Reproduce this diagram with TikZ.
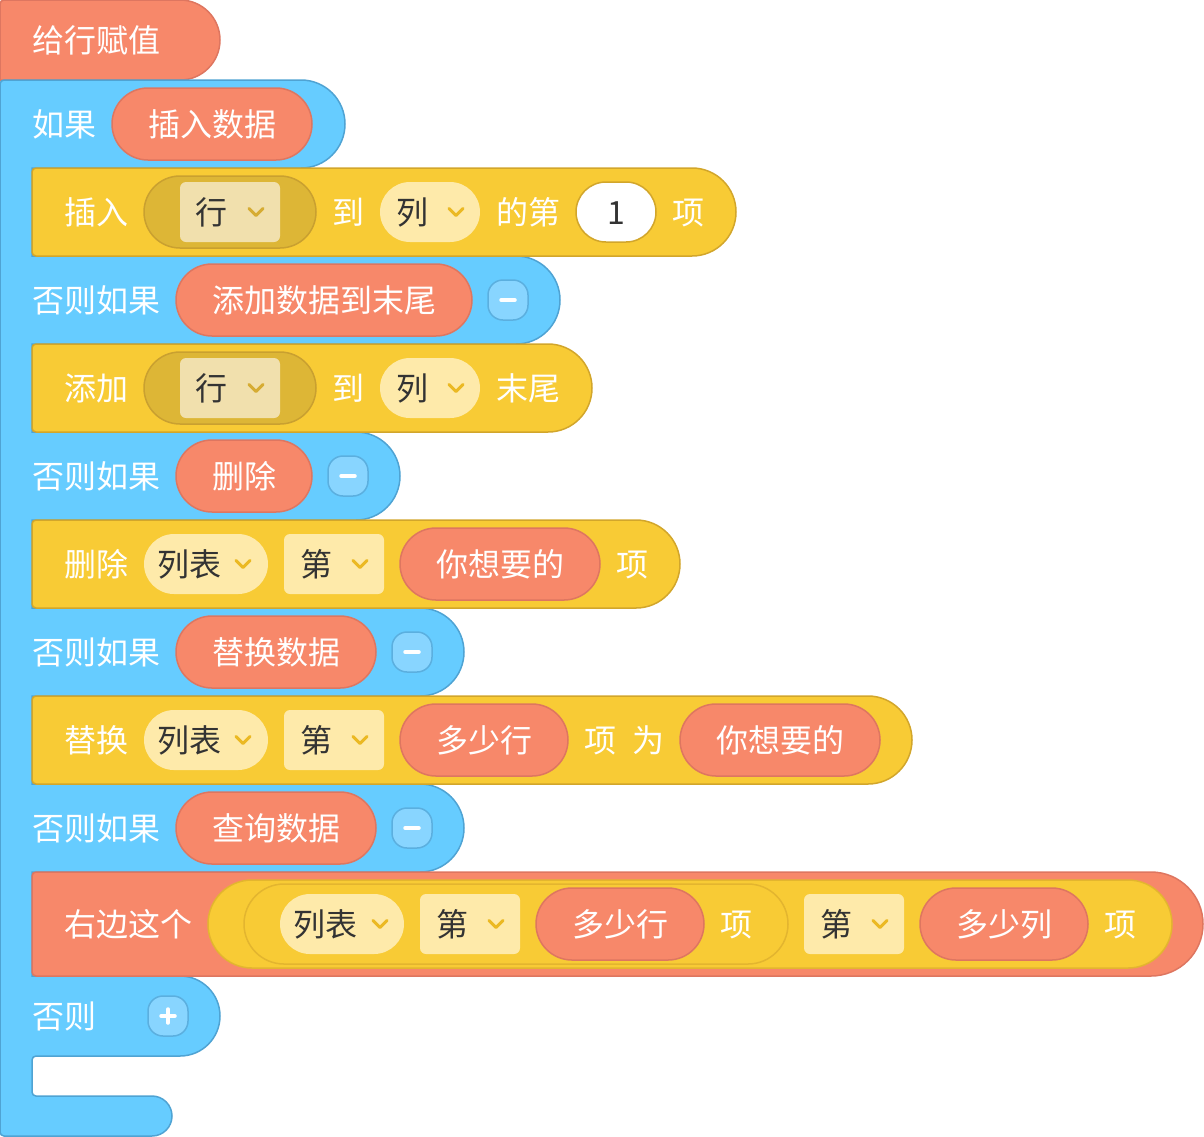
\documentclass[tikz,border=0pt]{standalone}
\usepackage{fontspec}
\setmainfont{Noto Sans CJK SC}
\newfontfamily\zh{Noto Sans CJK SC}
\definecolor{bluef}{HTML}{66CCFF}
\definecolor{blued}{HTML}{4FA3D3}
\definecolor{orf}{HTML}{F7886A}
\definecolor{ord}{HTML}{DE7660}
\definecolor{yelf}{HTML}{F8CB35}
\definecolor{yeld}{HTML}{D2A62B}
\definecolor{yeld2}{HTML}{E3B52F}
\definecolor{darkpill}{HTML}{DDB636}
\definecolor{darkpilld}{HTML}{C9A030}
\definecolor{innerlt}{HTML}{F1E0AD}
\definecolor{ltf}{HTML}{FEEAAA}
\definecolor{chevc}{HTML}{EBB923}
\definecolor{chevd}{HTML}{D6AC33}
\definecolor{dktext}{HTML}{333333}
\definecolor{btnf}{HTML}{88D5FF}
\definecolor{btnd}{HTML}{5BAFDF}
\tikzset{
  blueblk/.style={fill=bluef, draw=blued, line width=1.5pt},
  orblk/.style={fill=orf, draw=ord, line width=1.5pt},
  yelblk/.style={fill=yelf, draw=yeld, line width=1.5pt},
  orpill/.style={fill=orf, draw=ord, line width=1.5pt, rounded corners=36pt},
  ltpill/.style={fill=ltf, draw=none, rounded corners=30pt},
  ltrect/.style={fill=ltf, draw=none, rounded corners=6pt},
  wt/.style={anchor=base, inner sep=0pt, text=white, font=\zh\fontsize{32pt}{38pt}\selectfont},
  dk/.style={anchor=base, inner sep=0pt, text=dktext, font=\zh\fontsize{32pt}{38pt}\selectfont},
  chev/.style={draw=chevc, line width=3pt, line cap=round, line join=round},
  btn/.style={fill=btnf, draw=btnd, line width=1.5pt, rounded corners=15pt},
  sym/.style={draw=white, line width=3.5pt, line cap=round},
}
\newcommand\wtext[4]{\node[wt] (#1) at (#2,#3+12) {#4};}
\newcommand\dtext[4]{\node[dk] (#1) at (#2,#3+12) {#4};}
\newcommand\chevron[3]{\draw[chev,#3] (#1-7,#2-3.5) -- (#1,#2+3.5) -- (#1+7,#2-3.5);}
\newcommand\stmtblk[2]{\draw[yelblk] (32,#1+4) arc[start angle=180,end angle=270,radius=4] -- (#2-44,#1) arc[start angle=-90,end angle=90,radius=44] -- (36,#1+88) arc[start angle=90,end angle=180,radius=4] -- cycle;}
\newcommand\minusbtn[2]{\draw[btn] (#1-20,#2-20) rectangle (#1+20,#2+20); \draw[sym] (#1-7,#2) -- (#1+7,#2);}
\begin{document}
\begin{tikzpicture}[x=1pt,y=-1pt]
\useasboundingbox (0,0) rectangle (1204,1136);
% hat block
\draw[orblk] (0,4) arc[start angle=180,end angle=270,radius=4] -- (180,0) arc[start angle=-90,end angle=90,radius=40] -- (0,80) -- cycle;
\wtext{hat}{96}{40}{给行赋值}
% blue if/else block
\draw[blueblk] (0,84) arc[start angle=180,end angle=270,radius=4]
  -- (301,80) arc[start angle=-90,end angle=90,radius=44]
  -- (32,168) -- (32,256)
  -- (516,256) arc[start angle=-90,end angle=90,radius=44]
  -- (32,344) -- (32,432)
  -- (356,432) arc[start angle=-90,end angle=90,radius=44]
  -- (32,520) -- (32,608)
  -- (420,608) arc[start angle=-90,end angle=90,radius=44]
  -- (32,696) -- (32,784)
  -- (420,784) arc[start angle=-90,end angle=90,radius=44]
  -- (32,872) -- (32,976)
  -- (180,976) arc[start angle=-90,end angle=90,radius=40]
  -- (36,1056) arc[start angle=270,end angle=180,radius=4]
  -- (32,1092) arc[start angle=180,end angle=90,radius=4]
  -- (152,1096) arc[start angle=-90,end angle=90,radius=20]
  -- (4,1136) arc[start angle=90,end angle=180,radius=4] -- cycle;
% row: if
\wtext{if}{64}{124}{如果}
\draw[orpill] (112,88) rectangle (312,160);
\wtext{c1}{212}{124}{插入数据}
% statement: insert
\stmtblk{168}{736}
\wtext{s1a}{96}{212}{插入}
\draw[fill=darkpill, draw=darkpilld, line width=1.5pt, rounded corners=36pt] (144,176) rectangle (316,248);
\fill[innerlt, rounded corners=6pt] (180,182) rectangle (280,242);
\dtext{s1b}{211}{212}{行}
\chevron{256}{212}{draw=chevd}
\wtext{s1c}{348}{212}{到}
\fill[ltpill] (380,182) rectangle (480,242);
\dtext{s1d}{412}{212}{列}
\chevron{456}{212}{}
\wtext{s1e}{528}{212}{的第}
\draw[fill=white, draw=yeld, line width=1.5pt, rounded corners=30pt] (576,182) rectangle (656,242);
\dtext{s1f}{616}{212}{1}
\wtext{s1g}{688}{212}{项}
% row: else if add
\wtext{e1}{96}{300}{否则如果}
\draw[orpill] (176,264) rectangle (472,336);
\wtext{c2}{324}{300}{添加数据到末尾}
\minusbtn{508}{300}
% statement: add
\stmtblk{344}{592}
\wtext{s2a}{96}{388}{添加}
\draw[fill=darkpill, draw=darkpilld, line width=1.5pt, rounded corners=36pt] (144,352) rectangle (316,424);
\fill[innerlt, rounded corners=6pt] (180,358) rectangle (280,418);
\dtext{s2b}{211}{388}{行}
\chevron{256}{388}{draw=chevd}
\wtext{s2c}{348}{388}{到}
\fill[ltpill] (380,358) rectangle (480,418);
\dtext{s2d}{412}{388}{列}
\chevron{456}{388}{}
\wtext{s2e}{528}{388}{末尾}
% row: else if delete
\wtext{e2}{96}{476}{否则如果}
\draw[orpill] (176,440) rectangle (312,512);
\wtext{c3}{244}{476}{删除}
\minusbtn{348}{476}
% statement: delete
\stmtblk{520}{680}
\wtext{s3a}{96}{564}{删除}
\fill[ltpill] (144,534) rectangle (268,594);
\dtext{s3b}{189}{564}{列表}
\chevron{243}{564}{}
\fill[ltrect] (284,534) rectangle (384,594);
\dtext{s3c}{316}{564}{第}
\chevron{360}{564}{}
\draw[orpill] (400,528) rectangle (600,600);
\wtext{s3d}{500}{564}{你想要的}
\wtext{s3e}{632}{564}{项}
% row: else if replace
\wtext{e3}{96}{652}{否则如果}
\draw[orpill] (176,616) rectangle (376,688);
\wtext{c4}{276}{652}{替换数据}
\minusbtn{412}{652}
% statement: replace
\stmtblk{696}{912}
\wtext{s4a}{96}{740}{替换}
\fill[ltpill] (144,710) rectangle (268,770);
\dtext{s4b}{189}{740}{列表}
\chevron{243}{740}{}
\fill[ltrect] (284,710) rectangle (384,770);
\dtext{s4c}{316}{740}{第}
\chevron{360}{740}{}
\draw[orpill] (400,704) rectangle (568,776);
\wtext{s4d}{484}{740}{多少行}
\wtext{s4e}{600}{740}{项}
\wtext{s4f}{648}{740}{为}
\draw[orpill] (680,704) rectangle (880,776);
\wtext{s4g}{780}{740}{你想要的}
% row: else if query
\wtext{e4}{96}{828}{否则如果}
\draw[orpill] (176,792) rectangle (376,864);
\wtext{c5}{276}{828}{查询数据}
\minusbtn{412}{828}
% statement: right side
\draw[orblk] (32,876) arc[start angle=180,end angle=270,radius=4] -- (1151,872) arc[start angle=-90,end angle=90,radius=52] -- (36,976) arc[start angle=90,end angle=180,radius=4] -- cycle;
\wtext{s5a}{128}{924}{右边这个}
\draw[fill=yelf, draw=yeld2, line width=1.5pt, rounded corners=44pt] (208,880) rectangle (1172,968);
\draw[fill=yelf, draw=yeld2, line width=1.5pt, rounded corners=40pt] (244,884) rectangle (788,964);
\fill[ltpill] (280,894) rectangle (404,954);
\dtext{s5b}{325}{924}{列表}
\chevron{380}{924}{}
\fill[ltrect] (420,894) rectangle (520,954);
\dtext{s5c}{452}{924}{第}
\chevron{496}{924}{}
\draw[orpill] (536,888) rectangle (704,960);
\wtext{s5d}{620}{924}{多少行}
\wtext{s5e}{736}{924}{项}
\fill[ltrect] (804,894) rectangle (904,954);
\dtext{s5f}{836}{924}{第}
\chevron{880}{924}{}
\draw[orpill] (920,888) rectangle (1088,960);
\wtext{s5g}{1004}{924}{多少列}
\wtext{s5h}{1120}{924}{项}
% row: else
\wtext{el}{64}{1016}{否则}
\draw[btn] (148,996) rectangle (188,1036);
\draw[sym] (161,1016) -- (175,1016);
\draw[sym] (168,1009) -- (168,1023);
\end{tikzpicture}
\end{document}
